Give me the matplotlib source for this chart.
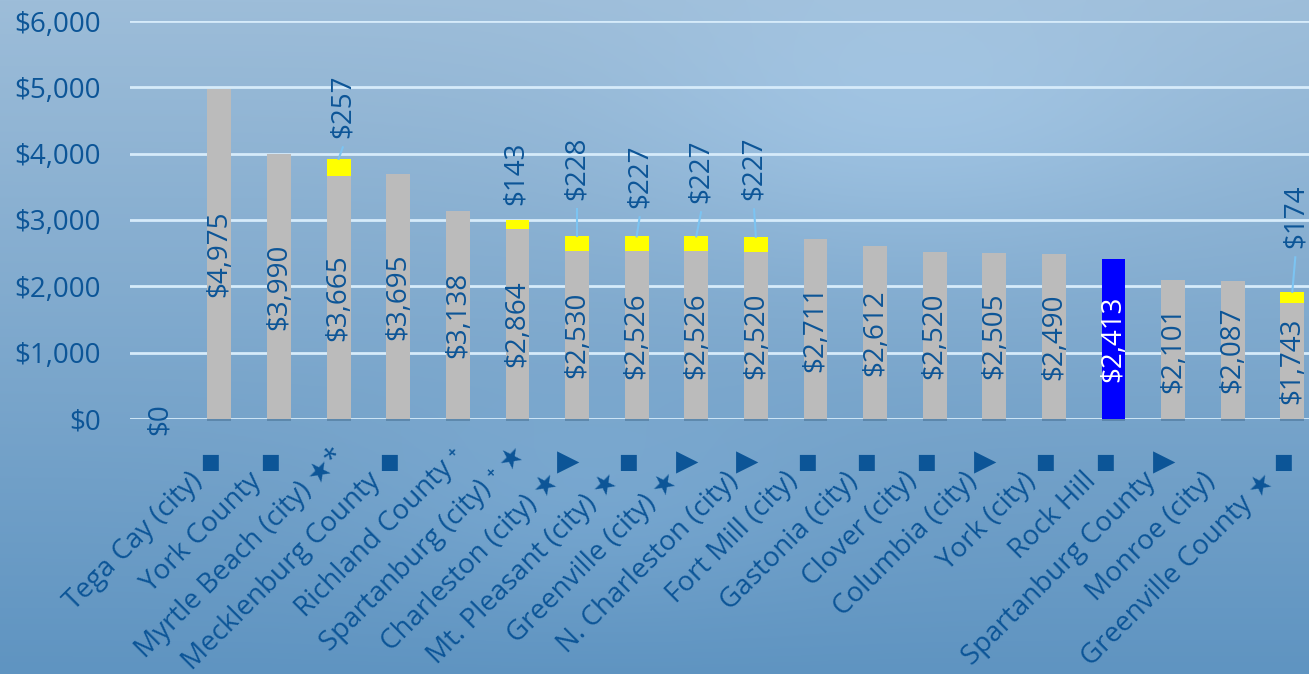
import numpy as np
import matplotlib.pyplot as plt
from matplotlib.colors import to_rgb

plt.rcParams['font.family'] = ['Open Sans', 'DejaVu Sans']

# Category data (first slot is an unlabeled $0 bar)
categories = ["", "Tega Cay (city)", "York County", "Myrtle Beach (city) ★*",
              "Mecklenburg County", "Richland County ⁺", "Spartanburg (city) ⁺ ★",
              "Charleston (city) ★", "Mt. Pleasant (city) ★", "Greenville (city) ★",
              "N. Charleston (city)", "Fort Mill (city)", "Gastonia (city)",
              "Clover (city)", "Columbia (city)", "York (city)", "Rock Hill",
              "Spartanburg County", "Monroe (city)", "Greenville County ★"]
symbols = ["", "■", "■", "", "■", "", "", "▶", "■", "▶",
           "▶", "■", "■", "■", "▶", "■", "■", "▶", "", "■"]
base_fee = [0, 4975, 3990, 3665, 3695, 3138, 2864, 2530, 2526, 2526,
            2520, 2711, 2612, 2520, 2505, 2490, 2413, 2101, 2087, 1743]
extra_fee = [0, 0, 0, 257, 0, 0, 143, 228, 227, 227,
             227, 0, 0, 0, 0, 0, 0, 0, 0, 174]
highlight = 16  # Rock Hill

# callout placement for the yellow segments: (gap above bar, x shift)
callout_gap = {3: 314, 6: 219, 7: 544, 8: 428, 9: 504, 10: 555, 19: 661}
callout_dx = {3: 0.07, 6: -0.03, 7: 0.0, 8: 0.05, 9: 0.08, 10: -0.03, 19: 0.05}
# labels ending in superscript marks sit a little further up the diagonal (px)
label_shift = {3: 24, 5: 24, 6: 26}

txt_color = '#0C5597'
x = np.arange(len(base_fee))
base = np.array(base_fee)
extra = np.array(extra_fee)

fig = plt.figure(figsize=(13.09, 6.74), dpi=100)

# soft blue backdrop
bg_ax = fig.add_axes([0, 0, 1, 1], zorder=-5)
h, w = 337, 655
yy, xx = np.mgrid[0:1:h * 1j, 0:1:w * 1j]
top = np.array(to_rgb('#9DBDD9'))
bot = np.array(to_rgb('#5F94C1'))
img = top[None, None, :] * (1 - yy[..., None]) + bot[None, None, :] * yy[..., None]
haze = np.exp(-(((xx - 0.70) / 0.22) ** 2 + ((yy - 0.18) / 0.20) ** 2))
haze2 = np.exp(-(((xx - 0.45) / 0.18) ** 2 + ((yy - 0.75) / 0.15) ** 2))
img = img + 0.05 * haze[..., None] + 0.03 * haze2[..., None]
bg_ax.imshow(np.clip(img, 0, 1), aspect='auto', extent=[0, 1, 0, 1])
bg_ax.axis('off')

ax = fig.add_axes([130 / 1309, 255 / 674, 1 - 130 / 1309, 398 / 674])
ax.patch.set_alpha(0)

bar_w = 0.4
colors = ['#BBBBBB'] * len(base)
colors[highlight] = '#0000FF'
ax.bar(x, base, width=bar_w, color=colors, zorder=3)
ax.bar(x, extra, width=bar_w, bottom=base, color='#FFFF00', zorder=3)
# faint shadow under each bar foot
ax.bar(x[1:], [-35] * (len(x) - 1), width=bar_w, color='#3E6688', alpha=0.45,
       zorder=2, clip_on=False)

for yv in range(0, 7000, 1000):
    ax.axhline(yv, color='#D6EBFA', lw=2, zorder=1)

# values inside the gray bars
for i in x:
    c = 'white' if i == highlight else txt_color
    ax.text(i, base[i] / 2, f"${base[i]:,}", rotation=90, ha='center', va='center',
            fontsize=20, color=c, zorder=5, clip_on=False)

# callouts for the yellow segments
for i, gap in callout_gap.items():
    top_val = base[i] + extra[i]
    lx = i + callout_dx[i]
    ax.text(lx, top_val + gap, f"${extra[i]:,}", rotation=90, ha='center', va='bottom',
            fontsize=20, color=txt_color, zorder=5)
    if gap > 250:
        ax.plot([lx, i], [top_val + gap - 140, top_val], color='#7CC4F2', lw=1.5, zorder=4)

# category labels and marker symbols
for i in x:
    if categories[i]:
        s = label_shift.get(i, 0)
        ax.text(i - 0.36 + s / 59.6, -870 + s / 66.33 * 1000, categories[i],
                rotation=45, rotation_mode='anchor', ha='right', va='center',
                fontsize=20, color=txt_color, clip_on=False)
    if symbols[i]:
        fs = 15 if symbols[i] == "■" else 21
        ax.text(i - 0.15, -650, symbols[i], ha='center', va='center', fontsize=fs,
                color=txt_color, family='DejaVu Sans', clip_on=False)

ax.set_xlim(-0.5, 19.28)
ax.set_ylim(0, 6000)
ax.set_xticks([])
ax.set_yticks(range(0, 7000, 1000))
ax.set_yticklabels([f"${v:,}" for v in range(0, 7000, 1000)])
ax.tick_params(axis='y', length=0, pad=21, labelsize=20, labelcolor=txt_color)
for s in ax.spines.values():
    s.set_visible(False)

fig.savefig('out.png', dpi=100)
